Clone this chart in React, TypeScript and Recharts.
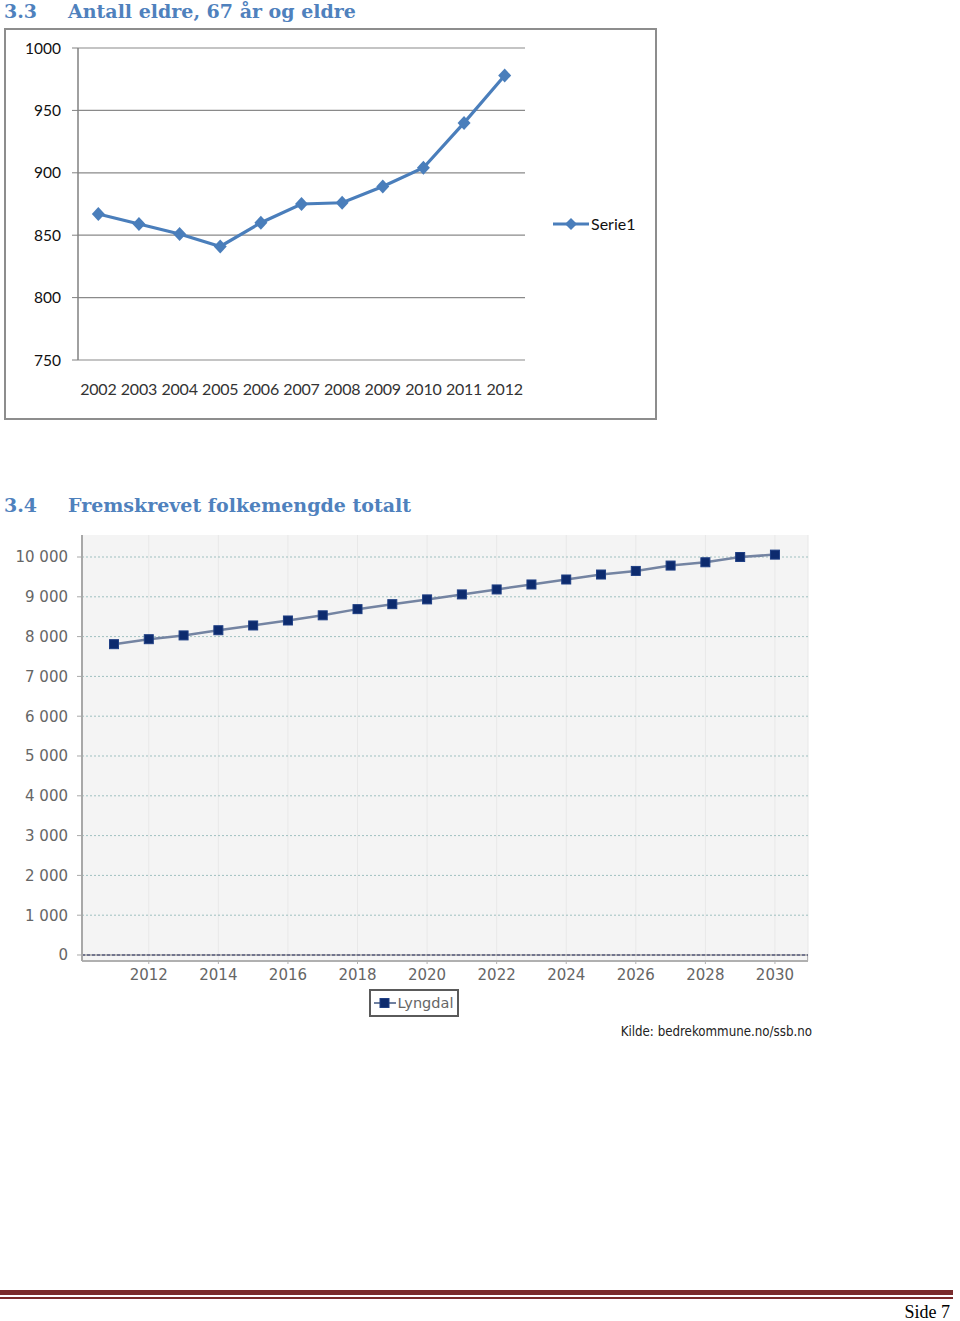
import React from "react";
import {
  LineChart,
  Line,
  XAxis,
  YAxis,
  CartesianGrid,
  Legend,
  ReferenceLine,
  ReferenceArea,
} from "recharts";

// ---- Chart 3.3: Antall eldre, 67 år og eldre ----
const elderYears = [2002, 2003, 2004, 2005, 2006, 2007, 2008, 2009, 2010, 2011, 2012];
const elderValues = [867, 859, 851, 841, 860, 875, 876, 889, 904, 940, 978];
const elderYTicks = [750, 800, 850, 900, 950, 1000];
const elderBoundaryTicks = [2001.5, 2002.5, 2003.5, 2004.5, 2005.5, 2006.5, 2007.5, 2008.5, 2009.5, 2010.5, 2011.5, 2012.5];
const elderSeriesName = "Serie1";

// ---- Chart 3.4: Fremskrevet folkemengde totalt ----
const projYears = [2011, 2012, 2013, 2014, 2015, 2016, 2017, 2018, 2019, 2020, 2021, 2022, 2023, 2024, 2025, 2026, 2027, 2028, 2029, 2030];
const projValues = [7810, 7935, 8030, 8160, 8280, 8405, 8535, 8690, 8815, 8935, 9060, 9185, 9310, 9435, 9560, 9650, 9785, 9868, 10000, 10060];
const projYTicks = [0, 1000, 2000, 3000, 4000, 5000, 6000, 7000, 8000, 9000, 10000];
const projXTicks = [2012, 2014, 2016, 2018, 2020, 2022, 2024, 2026, 2028, 2030];
const projSeriesName = "Lyngdal";

const elderData = elderYears.map((y, i) => ({ year: y, value: elderValues[i] }));
const projData = projYears.map((y, i) => ({ year: y, value: projValues[i] }));

const BLUE = "#4A7EBB";
const NAVY = "#0d2b6e";
const HEAD = "#4F81BD";

const fmtSpace = (v: number) =>
  String(v).replace(/\B(?=(\d{3})+(?!\d))/g, " ");

const Diamond = (props: any) => {
  const { cx, cy, index } = props;
  if (cx == null || cy == null) return <g key={`d-${index}`} />;
  return (
    <path
      key={`d-${index}`}
      d={`M${cx},${cy - 7} L${cx + 6.5},${cy} L${cx},${cy + 7} L${cx - 6.5},${cy} Z`}
      fill={BLUE}
    />
  );
};

const Square = (props: any) => {
  const { cx, cy, index } = props;
  if (cx == null || cy == null) return <g key={`s-${index}`} />;
  return (
    <rect
      key={`s-${index}`}
      x={cx - 4.5}
      y={cy - 4.5}
      width={9}
      height={9}
      fill={NAVY}
      stroke="#1f3f84"
      strokeWidth={1}
    />
  );
};

const ElderLegend = () => (
  <div style={{ width: 112, height: 20, display: "flex", alignItems: "center", paddingLeft: 28, boxSizing: "border-box" }}>
    <svg width={36} height={16} style={{ flex: "none" }}>
      <line x1={0} y1={8} x2={36} y2={8} stroke={BLUE} strokeWidth={3} />
      <path d="M18,2 L24,8 L18,14 L12,8 Z" fill={BLUE} />
    </svg>
    <span style={{ fontFamily: "Lato, sans-serif", fontSize: 16, color: "#111", marginLeft: 2 }}>
      {elderSeriesName}
    </span>
  </div>
);

const ProjLegend = () => (
  <div style={{ display: "flex", justifyContent: "center", height: 28, paddingLeft: 20, boxSizing: "border-box" }}>
    <div
      style={{
        height: 28,
        boxSizing: "border-box",
        border: "2px solid #5a5a5a",
        display: "flex",
        alignItems: "center",
        padding: "0 4px 0 3px",
        background: "#fff",
      }}
    >
      <svg width={22} height={12} style={{ flex: "none" }}>
        <line x1={0} y1={6} x2={22} y2={6} stroke="#6f80a0" strokeWidth={2} />
        <rect x={6} y={1.5} width={9} height={9} fill={NAVY} stroke="#1f3f84" />
      </svg>
      <span style={{ fontFamily: "'DejaVu Sans', sans-serif", fontSize: 14.5, color: "#666", marginLeft: 2 }}>
        {projSeriesName}
      </span>
    </div>
  </div>
);

const headStyle: React.CSSProperties = {
  position: "absolute",
  left: 4,
  fontFamily: "'DejaVu Serif', serif",
  fontWeight: "bold",
  fontSize: 19,
  color: HEAD,
  whiteSpace: "nowrap",
  lineHeight: 1,
};

export default function App() {
  return (
    <div style={{ position: "absolute", left: 0, top: 0, width: 960, height: 1321, background: "#fff", overflow: "hidden" }}>
      {/* Heading 3.3 */}
      <div style={{ ...headStyle, top: 2 }}>
        <span>3.3</span>
        <span style={{ position: "absolute", left: 64 }}>Antall eldre, 67 år og eldre</span>
      </div>

      {/* Chart 3.3 frame */}
      <div
        style={{
          position: "absolute",
          left: 4,
          top: 28,
          width: 653,
          height: 392,
          border: "2px solid #8d8d8d",
          boxSizing: "border-box",
        }}
      />
      <div style={{ position: "absolute", left: 4, top: 28 }}>
        <LineChart
          width={652}
          height={391}
          data={elderData}
          margin={{ top: 20, right: 19, bottom: 0, left: 0 }}
        >
          <CartesianGrid horizontal vertical={false} stroke="#8a8a8a" strokeWidth={1.2} />
          <XAxis
            xAxisId="bounds"
            dataKey="year"
            type="number"
            domain={[2001.5, 2012.5]}
            ticks={elderBoundaryTicks}
            tickFormatter={() => ""}
            height={0}
            axisLine={{ stroke: "#808080", strokeWidth: 1.5 }}
            tickLine={{ stroke: "#555", strokeWidth: 1.2 }}
            tickSize={5}
            interval={0}
            allowDataOverflow
          />
          <XAxis
            dataKey="year"
            type="number"
            domain={[2001.5, 2012.5]}
            ticks={elderYears}
            axisLine={false}
            tickLine={false}
            tickSize={0}
            tickMargin={24}
            height={59}
            interval={0}
            allowDataOverflow
            tick={{ fontFamily: "Lato, sans-serif", fontSize: 16, fill: "#333", letterSpacing: -0.2 }}
          />
          <YAxis
            domain={[750, 1000]}
            ticks={elderYTicks}
            width={74}
            axisLine={{ stroke: "#808080", strokeWidth: 1.5 }}
            tickLine={{ stroke: "#808080" }}
            tickSize={6}
            tickMargin={11}
            interval={0}
            tick={{ fontFamily: "Lato, sans-serif", fontSize: 15.5, fill: "#111" }}
          />
          <Legend
            layout="vertical"
            align="right"
            verticalAlign="middle"
            content={<ElderLegend />}
          />
          <Line
            type="linear"
            dataKey="value"
            name={elderSeriesName}
            stroke={BLUE}
            strokeWidth={3.2}
            dot={Diamond}
            activeDot={false}
            isAnimationActive={false}
          />
        </LineChart>
      </div>

      {/* Heading 3.4 */}
      <div style={{ ...headStyle, top: 496 }}>
        <span>3.4</span>
        <span style={{ position: "absolute", left: 64 }}>Fremskrevet folkemengde totalt</span>
      </div>

      {/* Chart 3.4 */}
      <div style={{ position: "absolute", left: 0, top: 530 }}>
        <LineChart
          width={830}
          height={487}
          data={projData}
          margin={{ top: 5, right: 22, bottom: 0, left: 0 }}
        >
          <CartesianGrid
            fill="#f4f4f4"
            horizontal={false}
            vertical
            stroke="#e8e8e8"
          />
          <CartesianGrid
            horizontal
            vertical={false}
            stroke="#9fc0c0"
            strokeDasharray="2 2"
            horizontalValues={projYTicks.filter((t) => t > 0)}
          />
          <ReferenceArea y1={0} fill="none" stroke="#a3a3a3" strokeWidth={1.5} ifOverflow="hidden" />
          <ReferenceLine y={0} stroke="#2f3566" strokeDasharray="3 2" strokeWidth={1.2} />
          <XAxis
            dataKey="year"
            type="number"
            domain={[2010.08, 2030.95]}
            ticks={projXTicks}
            interval={0}
            height={28}
            axisLine={{ stroke: "#b0b0b0", strokeWidth: 2 }}
            tickLine={{ stroke: "#b0b0b0" }}
            tickSize={3}
            tickMargin={5}
            allowDataOverflow
            tick={{ fontFamily: "'DejaVu Sans', sans-serif", fontSize: 15, fill: "#666" }}
          />
          <YAxis
            domain={[-151, 10553]}
            ticks={projYTicks}
            interval={0}
            width={82}
            allowDataOverflow
            axisLine={{ stroke: "#a8a8a8", strokeWidth: 2 }}
            tickLine={{ stroke: "#a8a8a8" }}
            tickSize={5}
            tickMargin={9}
            tickFormatter={fmtSpace}
            tick={{ fontFamily: "'DejaVu Sans', sans-serif", fontSize: 15, fill: "#666" }}
          />
          <Legend layout="horizontal" align="center" verticalAlign="bottom" content={<ProjLegend />} />
          <Line
            type="linear"
            dataKey="value"
            name={projSeriesName}
            stroke="#7484a2"
            strokeWidth={2.5}
            dot={Square}
            activeDot={false}
            isAnimationActive={false}
          />
        </LineChart>
      </div>

      {/* Source */}
      <div
        style={{
          position: "absolute",
          right: 960 - 812,
          top: 1024,
          fontFamily: "'DejaVu Sans Condensed', 'DejaVu Sans', sans-serif",
          fontSize: 13.2,
          color: "#222",
          whiteSpace: "nowrap",
        }}
      >
        Kilde: bedrekommune.no/ssb.no
      </div>

      {/* Footer */}
      <div style={{ position: "absolute", left: 0, top: 1290, width: 953, height: 5, background: "#7a2b2c" }} />
      <div style={{ position: "absolute", left: 0, top: 1297, width: 953, height: 1.5, background: "#7a2b2c" }} />
      <div
        style={{
          position: "absolute",
          right: 10,
          top: 1303,
          fontFamily: "'Liberation Serif', serif",
          fontSize: 18,
          lineHeight: "18px",
          color: "#000",
          whiteSpace: "nowrap",
        }}
      >
        Side 7
      </div>
    </div>
  );
}
